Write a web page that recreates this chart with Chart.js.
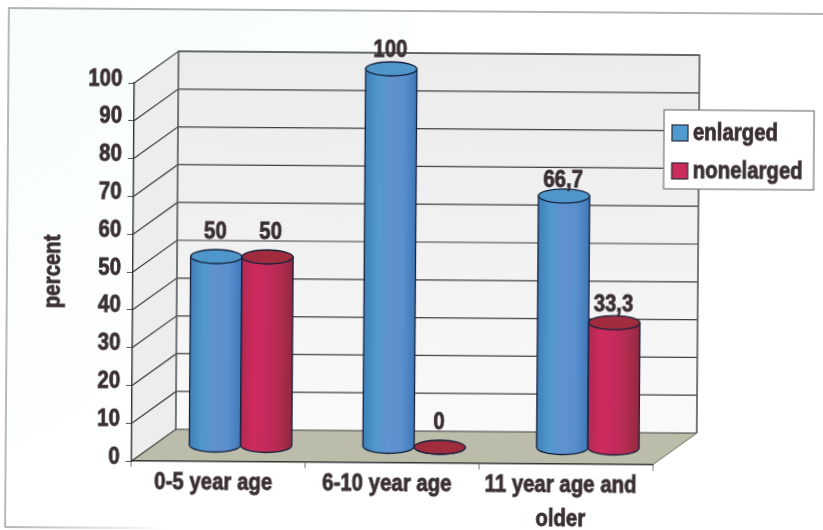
<!DOCTYPE html>
<html>
<head>
<meta charset="utf-8">
<title>Enlarged and nonenlarged by age group</title>
<script src="https://cdn.jsdelivr.net/npm/chart.js@4/dist/chart.umd.min.js"></script>
<style>
  html, body { margin: 0; height: 100%; overflow: hidden; background: #fff; }
  #wrap {
    position: absolute; left: 0; top: 0; width: 823px; height: 540px;
    transform: rotate(0.42deg); transform-origin: 411.5px 265px;
  }
</style>
</head>
<body>
<div id="wrap"><canvas id="ageChart"></canvas></div>
<script>
const categories = ["0-5 year age", "6-10 year age", ["11 year age and", "older"]];
const seriesNames = ["enlarged", "nonelarged"];
const enlarged = [50, 100, 66.7];
const nonenlarged = [50, 0, 33.3];
const yTicks = [0, 10, 20, 30, 40, 50, 60, 70, 80, 90, 100];

const ink = "#3a2f33";
const fontString = 'bold 24px "Liberation Sans", sans-serif';
const squeeze = 0.85; // no condensed bold face is installed, so narrow the glyphs

// how far the box recedes behind the front plane
const depth = { x: 44, y: -32 };
const barShift = { x: depth.x / 2, y: depth.y / 2 };
const capRy = 7;

const looks = [
  { stops: ["#3f80b8", "#4f99cd", "#6290cf", "#5a8fcd", "#3f78b8"], cap: "#4f97ca", swatch: "#4f9bcf" },
  { stops: ["#b02a50", "#cf2a5e", "#c42a5c", "#b22c50", "#92293f"], cap: "#a02c3e", swatch: "#cc2c5c" }
];
// value labels sit at slightly different heights above their caps
const valueLift = [[25, 19, 15], [25, 25, 18]];
const valueNudge = [[0, 0, 0], [4, 0, 0]];

// narrow bold label, anchored at (x, y) with the given alignment
function putText(ctx, text, x, y, align, angle) {
  ctx.save();
  ctx.translate(x, y);
  if (angle) ctx.rotate(angle);
  ctx.scale(squeeze, 1);
  ctx.font = fontString;
  ctx.fillStyle = ink;
  ctx.strokeStyle = ink;
  ctx.lineWidth = 0.8;
  ctx.textAlign = align;
  ctx.textBaseline = "middle";
  ctx.fillText(text, 0, 0);
  ctx.strokeText(text, 0, 0);
  ctx.restore();
}

const boxPlugin = {
  id: "box3d",
  beforeDraw(chart) {
    const { ctx, chartArea: a, scales: { y } } = chart;
    ctx.save();

    // sheet tint and frame
    const tint = ctx.createLinearGradient(0, 0, 260, 400);
    tint.addColorStop(0, "#f6fdfb");
    tint.addColorStop(1, "#ffffff");
    ctx.fillStyle = tint;
    ctx.fillRect(7, 11, 400, 519);
    ctx.strokeStyle = "#9c9c9c";
    ctx.lineWidth = 1.4;
    ctx.beginPath();
    ctx.moveTo(823, 11);
    ctx.lineTo(7, 11);
    ctx.lineTo(7, 530);
    ctx.stroke();
    const foot = ctx.createLinearGradient(7, 0, 170, 0);
    foot.addColorStop(0, "#9c9c9c");
    foot.addColorStop(1, "rgba(156,156,156,0)");
    ctx.strokeStyle = foot;
    ctx.beginPath();
    ctx.moveTo(7, 530);
    ctx.lineTo(170, 530);
    ctx.stroke();

    const bx = a.left + depth.x, rx = a.right + depth.x;
    const topF = y.getPixelForValue(100), botF = y.getPixelForValue(0);
    const topB = topF + depth.y, botB = botF + depth.y;

    // back wall
    const wall = ctx.createLinearGradient(0, topB, 0, botB);
    wall.addColorStop(0, "#ececec");
    wall.addColorStop(0.5, "#f1f1f1");
    wall.addColorStop(1, "#fafafa");
    ctx.fillStyle = wall;
    ctx.fillRect(bx, topB, rx - bx, botB - topB);

    // side wall
    ctx.fillStyle = "#ededed";
    ctx.beginPath();
    ctx.moveTo(a.left, topF);
    ctx.lineTo(bx, topB);
    ctx.lineTo(bx, botB);
    ctx.lineTo(a.left, botF);
    ctx.closePath();
    ctx.fill();

    // floor
    ctx.fillStyle = "#bcbcab";
    ctx.beginPath();
    ctx.moveTo(a.left, botF);
    ctx.lineTo(bx, botB);
    ctx.lineTo(rx, botB);
    ctx.lineTo(a.right, botF);
    ctx.closePath();
    ctx.fill();
    ctx.strokeStyle = "#6c6c64";
    ctx.lineWidth = 1;
    ctx.beginPath();
    ctx.moveTo(rx, botB);
    ctx.lineTo(a.right, botF);
    ctx.stroke();

    // gridlines run along the side wall then across the back
    ctx.strokeStyle = "#3f3f3f";
    ctx.lineWidth = 1.2;
    for (const v of yTicks) {
      const py = y.getPixelForValue(v);
      ctx.beginPath();
      ctx.moveTo(a.left, py);
      ctx.lineTo(bx, py + depth.y);
      ctx.lineTo(rx, py + depth.y);
      ctx.stroke();
    }
    ctx.strokeStyle = "#55595c";
    ctx.lineWidth = 1.6;
    ctx.beginPath();
    ctx.moveTo(bx, botB);
    ctx.lineTo(bx, topB);
    ctx.lineTo(rx, topB);
    ctx.lineTo(rx, botB);
    ctx.stroke();
    ctx.restore();
  },
  afterDatasetsDraw(chart) {
    const { ctx } = chart;
    chart.data.datasets.forEach((ds, i) => {
      chart.getDatasetMeta(i).data.forEach((bar, j) => {
        drawCylinder(ctx, bar, looks[i]);
        const text = String(ds.data[j]).replace(".", ",");
        putText(ctx, text, bar.x + barShift.x - 1 + valueNudge[i][j], bar.y + barShift.y - valueLift[i][j], "center");
      });
    });
  },
  afterDraw(chart) {
    const { ctx, chartArea: a, scales: { x, y } } = chart;

    // axis texts, positioned from the scales
    for (const v of yTicks) {
      putText(ctx, String(v), a.left - 12, y.getPixelForValue(v) - 4, "right");
    }
    categories.forEach((label, i) => {
      const lines = Array.isArray(label) ? label : [label];
      lines.forEach((line, k) => {
        putText(ctx, line, x.getPixelForValue(i) - 5, a.bottom + 21 + k * 34, "center");
      });
    });
    putText(ctx, "percent", 53, (a.top + a.bottom) / 2, "center", -Math.PI / 2);

    // legend box
    ctx.save();
    ctx.fillStyle = "#fff";
    ctx.strokeStyle = "#777";
    ctx.lineWidth = 1.2;
    ctx.fillRect(663, 108, 150, 79);
    ctx.strokeRect(663, 108, 150, 79);
    chart.data.datasets.forEach((ds, i) => {
      const sy = 123 + i * 38;
      ctx.fillStyle = looks[i].swatch;
      ctx.fillRect(671, sy, 16, 16);
      ctx.strokeStyle = "#2a2a3a";
      ctx.strokeRect(671, sy, 16, 16);
      putText(ctx, ds.label, 692, sy + 8, "left");
    });
    ctx.restore();
  }
};

function drawCylinder(ctx, bar, look) {
  const cx = bar.x + barShift.x;
  const top = bar.y + barShift.y;
  const bottom = bar.base + barShift.y;
  const rx = bar.width / 2;
  const side = ctx.createLinearGradient(cx - rx, 0, cx + rx, 0);
  look.stops.forEach((c, k) => side.addColorStop(k / (look.stops.length - 1), c));

  ctx.save();
  ctx.strokeStyle = "#15213c";
  ctx.lineWidth = 1.3;
  ctx.fillStyle = side;
  ctx.beginPath();
  ctx.moveTo(cx - rx, top);
  ctx.lineTo(cx - rx, bottom);
  ctx.ellipse(cx, bottom, rx, capRy, 0, Math.PI, 0, true);
  ctx.lineTo(cx + rx, top);
  ctx.closePath();
  ctx.fill();
  ctx.stroke();
  ctx.fillStyle = look.cap;
  ctx.beginPath();
  ctx.ellipse(cx, top, rx, capRy, 0, 0, Math.PI * 2);
  ctx.fill();
  ctx.stroke();
  ctx.restore();
}

new Chart(document.getElementById("ageChart"), {
  type: "bar",
  data: {
    labels: categories,
    datasets: [
      { label: seriesNames[0], data: enlarged, backgroundColor: "transparent" },
      { label: seriesNames[1], data: nonenlarged, backgroundColor: "transparent" }
    ]
  },
  options: {
    responsive: true,
    maintainAspectRatio: false,
    animation: false,
    layout: { padding: { left: 0, top: 85, right: 169, bottom: 0 } },
    plugins: { legend: { display: false }, tooltip: { enabled: false } },
    datasets: { bar: { categoryPercentage: 0.59, barPercentage: 1 } },
    scales: {
      x: {
        afterFit: (s) => { s.height = 77; },
        grid: { drawOnChartArea: false, tickLength: 6, color: "#777" },
        border: { color: "#333", width: 1.4 },
        ticks: { display: false }
      },
      y: {
        min: 0,
        max: 100,
        afterFit: (s) => { s.width = 133; },
        grid: { drawOnChartArea: false, tickLength: 6, color: "#555" },
        border: { color: "#333", width: 1.4 },
        ticks: { display: false, stepSize: 10 }
      }
    }
  },
  plugins: [boxPlugin]
});
</script>
</body>
</html>
